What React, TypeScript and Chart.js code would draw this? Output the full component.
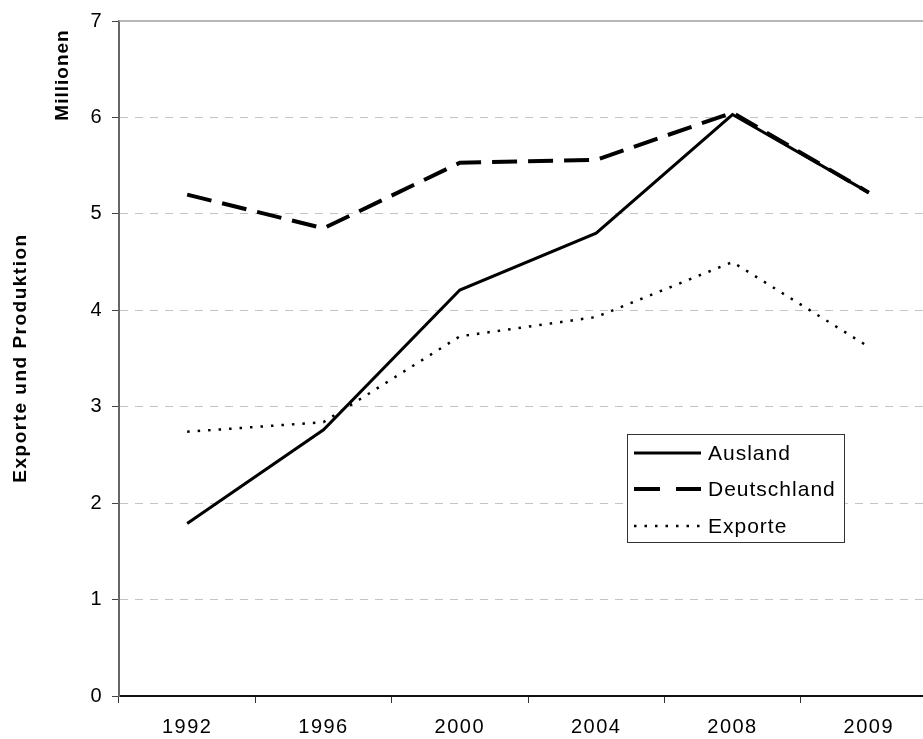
import { useEffect, useRef } from "react";
import { Chart, registerables } from "chart.js";

Chart.register(...registerables);

// Jahre und Werte (Millionen)
const years = ["1992", "1996", "2000", "2004", "2008", "2009"];
const ausland = [1.79, 2.76, 4.21, 4.8, 6.03, 5.22];
const deutschland = [5.2, 4.85, 5.53, 5.56, 6.05, 5.22];
const exporte = [2.74, 2.84, 3.73, 3.93, 4.5, 3.62];
const seriesNames = ["Ausland", "Deutschland", "Exporte"];
const yMin = 0;
const yMax = 7;
const yStep = 1;
const yTitle = "Exporte und Produktion";
const unitLabel = "Millionen";

const FONT = "Arial, 'Liberation Sans', sans-serif";

// Rahmenlinie oben, Achsentitel und Legende
const decorations = {
  id: "decorations",
  beforeUpdate(chart: any) {
    chart.ctx.letterSpacing = "1.5px";
  },
  beforeDraw(chart: any) {
    chart.ctx.letterSpacing = "1.5px";
  },
  afterDraw(chart: any) {
    const { ctx, chartArea } = chart;
    const y = chart.scales.y;

    ctx.save();
    // solid line at the top of the value range
    const yTop = y.getPixelForValue(yMax);
    ctx.strokeStyle = "#a0a0a0";
    ctx.lineWidth = 1.5;
    ctx.setLineDash([]);
    ctx.beginPath();
    ctx.moveTo(chartArea.left, yTop);
    ctx.lineTo(chartArea.right, yTop);
    ctx.stroke();

    // rotated axis titles
    ctx.fillStyle = "#000";
    ctx.font = `bold 19px ${FONT}`;
    ctx.textAlign = "center";
    ctx.textBaseline = "middle";
    ctx.letterSpacing = "1.5px";
    ctx.save();
    ctx.translate(21, 358);
    ctx.rotate(-Math.PI / 2);
    ctx.fillText(yTitle, 0, 0);
    ctx.restore();
    ctx.letterSpacing = "1px";
    ctx.save();
    ctx.translate(63, 75);
    ctx.rotate(-Math.PI / 2);
    ctx.fillText(unitLabel, 0, 0);
    ctx.restore();

    // legend box
    const bx = 627, by = 434, bw = 217, bh = 108;
    ctx.fillStyle = "#fff";
    ctx.fillRect(bx, by, bw, bh);
    ctx.strokeStyle = "#333";
    ctx.lineWidth = 1;
    ctx.strokeRect(bx + 0.5, by + 0.5, bw, bh);

    const rows = [453, 489, 526];
    ctx.font = `21px ${FONT}`;
    ctx.letterSpacing = "1px";
    ctx.textAlign = "left";
    ctx.textBaseline = "middle";
    chart.data.datasets.forEach((ds: any, i: number) => {
      const ry = rows[i];
      ctx.strokeStyle = ds.borderColor;
      ctx.lineWidth = ds.borderWidth;
      ctx.setLineDash(ds.legendDash || []);
      ctx.beginPath();
      ctx.moveTo(634, ry);
      ctx.lineTo(701, ry);
      ctx.stroke();
      ctx.setLineDash([]);
      ctx.fillStyle = "#000";
      ctx.fillText(ds.label, 708, ry + 1);
    });
    ctx.restore();
  },
};

export default function App() {
  const canvasRef = useRef<HTMLCanvasElement>(null);

  useEffect(() => {
    const canvas = canvasRef.current;
    if (!canvas) return;
    const chart = new Chart(canvas, {
      type: "line",
      data: {
        labels: years,
        datasets: [
          {
            label: seriesNames[0],
            data: ausland,
            borderColor: "#000",
            borderWidth: 3,
            pointRadius: 0,
            tension: 0,
            fill: false,
            legendDash: [],
          } as any,
          {
            label: seriesNames[1],
            data: deutschland,
            borderColor: "#000",
            borderWidth: 4,
            borderDash: [25, 11],
            pointRadius: 0,
            tension: 0,
            fill: false,
            legendDash: [26, 16],
          } as any,
          {
            label: seriesNames[2],
            data: exporte,
            borderColor: "#000",
            borderWidth: 2.5,
            borderDash: [2.5, 8],
            pointRadius: 0,
            tension: 0,
            fill: false,
            legendDash: [2.5, 8],
          } as any,
        ],
      },
      options: {
        responsive: false,
        animation: false,
        devicePixelRatio: 1,
        layout: { padding: { top: 21, right: 3, left: 0, bottom: 0 } },
        plugins: {
          legend: { display: false },
          tooltip: { enabled: false },
        },
        scales: {
          x: {
            type: "category",
            offset: true,
            grid: {
              offset: true,
              drawOnChartArea: false,
              drawTicks: true,
              tickLength: 7,
              tickColor: "#333",
            },
            border: { display: true, color: "#111", width: 2 },
            ticks: {
              color: "#000",
              font: { family: FONT, size: 20 },
              padding: 12,
              maxRotation: 0,
              autoSkip: false,
            },
            afterFit(scale: any) {
              scale.height = 43;
            },
          },
          y: {
            min: yMin,
            max: yMax,
            grid: {
              color: (c: any) =>
                c.tick && (c.tick.value === yMin || c.tick.value === yMax)
                  ? "rgba(0,0,0,0)"
                  : "#c4c4c4",
              lineWidth: 1,
              drawTicks: true,
              tickLength: 7,
              tickColor: "#444",
              tickBorderDash: [],
            },
            border: { display: true, color: "#666", width: 2, dash: [8, 7] },
            ticks: {
              stepSize: yStep,
              color: "#000",
              font: { family: FONT, size: 20 },
              padding: 9,
            },
            afterFit(scale: any) {
              scale.width = 119;
            },
          },
        },
      } as any,
      plugins: [decorations],
    });
    return () => chart.destroy();
  }, []);

  return (
    <div
      style={{
        position: "fixed",
        left: 0,
        top: 0,
        width: 923,
        height: 739,
        overflow: "hidden",
        background: "#fff",
      }}
    >
      <canvas
        ref={canvasRef}
        width={940}
        height={739}
        style={{ display: "block", width: 940, height: 739 }}
      />
    </div>
  );
}
